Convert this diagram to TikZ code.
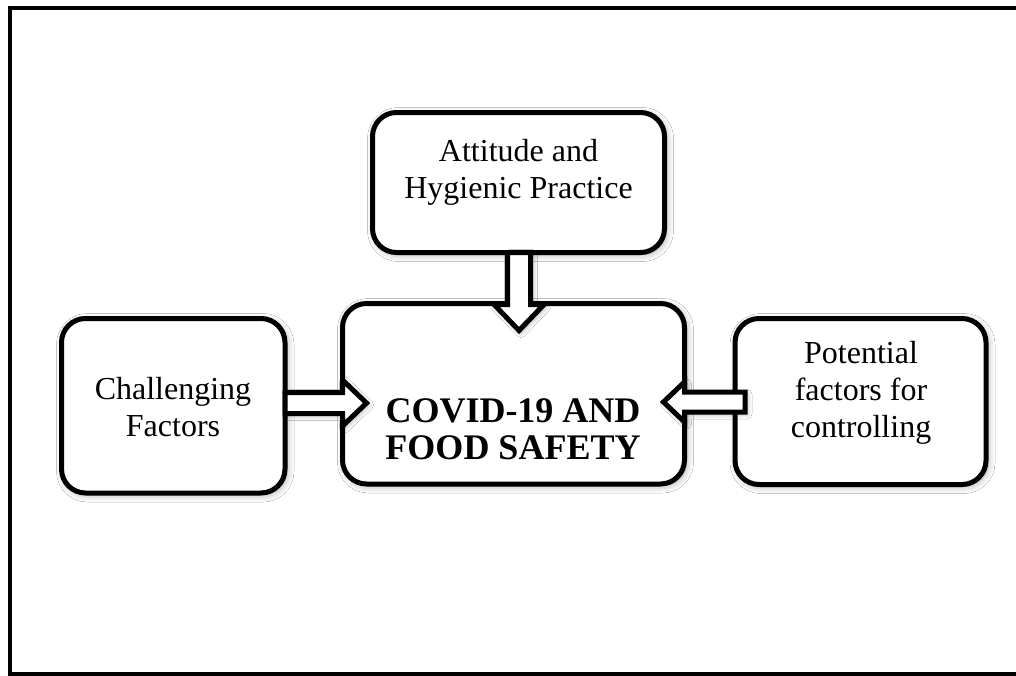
\documentclass[tikz,border=0pt]{standalone}
\usepackage{fontspec}
\setmainfont{Liberation Serif}
\usetikzlibrary{calc,shadows.blur}
\begin{document}
\begin{tikzpicture}[x=1pt,y=-1pt,
  box/.style={draw=black, line width=5pt, rounded corners=24pt, fill=white, inner sep=0pt, outer sep=0pt,
    blur shadow={shadow xshift=2pt, shadow yshift=-2pt, shadow blur radius=7pt, shadow opacity=35}},
  blockarrow/.style={draw=black, line width=5pt, fill=white, line join=miter,
    blur shadow={shadow xshift=2pt, shadow yshift=-2pt, shadow blur radius=5pt, shadow opacity=35}},
  lbl/.style={font=\fontsize{32}{37}\selectfont, align=center, inner sep=0pt},
  blbl/.style={font=\fontsize{36}{37}\selectfont\bfseries, align=center, inner sep=0pt}]
\useasboundingbox (0,0) rectangle (1016,675);
\fill[white] (0,0) rectangle (1016,675);
\draw[line width=4pt] (10,8) rectangle (1022,674);
% boxes
\node[box, minimum width=292pt, minimum height=140pt] (topbox) at (518.5,182.5) {};
\node[box, minimum width=223.5pt, minimum height=174.5pt] (leftbox) at (173.25,405.75) {};
\node[box, minimum width=342pt, minimum height=180.5pt] (cenbox) at (513.5,393.75) {};
\node[box, minimum width=251pt, minimum height=166pt] (rightbox) at (860.5,401.5) {};
\coordinate (topS) at ($(topbox.south)+(0.5,0)$);
\coordinate (cenN) at ($(cenbox.north)+(5.5,1)$);
\coordinate (leftE) at ($(leftbox.east)+(0,-2.75)$);
\coordinate (cenW) at ($(cenbox.west)+(0,9.25)$);
\coordinate (rightW) at ($(rightbox.west)+(0,0.5)$);
\coordinate (cenE) at ($(cenbox.east)+(0,8.25)$);
% arrows
\path[blockarrow] ($(topS)+(-11.5,0)$) -- ($(cenN)+(-11.5,0)$) -- ($(cenN)+(-25,0)$)
  -- ($(cenN)+(0,26)$) -- ($(cenN)+(25,0)$) -- ($(cenN)+(11.5,0)$) -- ($(topS)+(11.5,0)$) -- cycle;
\path[blockarrow] ($(leftE)+(0,-10.5)$) -- ($(cenW)+(0,-10.5)$) -- ($(cenW)+(0,-23)$)
  -- ($(cenW)+(24,0)$) -- ($(cenW)+(0,23)$) -- ($(cenW)+(0,10.5)$) -- ($(leftE)+(0,10.5)$) -- cycle;
\path[blockarrow] ($(rightW)+(10,-10)$) -- ($(cenE)+(0,-10)$) -- ($(cenE)+(0,-20)$)
  -- ($(cenE)+(-21,0)$) -- ($(cenE)+(0,20)$) -- ($(cenE)+(0,10)$) -- ($(rightW)+(10,10)$) -- cycle;
% texts
\node[lbl] (ttop) at (518.5,172) {Attitude and\\Hygienic Practice};
\node[lbl] (tleft) at (173,407) {Challenging\\Factors};
\node[blbl] (tcen) at (513,429) {COVID-19 AND\\FOOD SAFETY};
\node[lbl] (tright) at (861,393) {Potential\\factors for\\controlling};
\end{tikzpicture}
\end{document}
